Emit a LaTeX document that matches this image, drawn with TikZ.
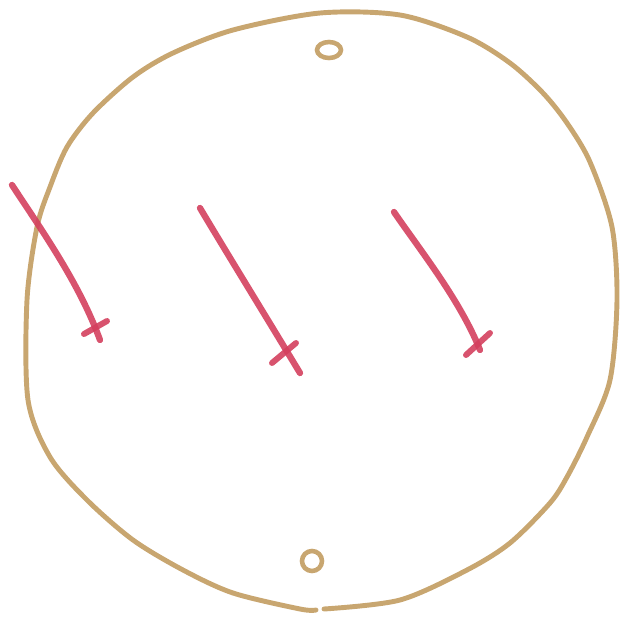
\documentclass[tikz,border=0pt]{standalone}
\usepackage{xcolor}
\usepackage{tikz}

\definecolor{pencilTan}{HTML}{C8A670}
\definecolor{pencilRed}{HTML}{D4405E}

\begin{document}
\begin{tikzpicture}[
    x=0.02cm, y=-0.02cm,
    rim/.style={draw=pencilTan, line width=2.8pt, line cap=round, line join=round},
    hole/.style={draw=pencilTan, line width=2.6pt},
    stroke/.style={draw=pencilRed, line width=3.6pt, line cap=round, opacity=0.9},
    tick/.style={draw=pencilRed, line width=3.4pt, line cap=round, opacity=0.9}
]
\useasboundingbox (0,0) rectangle (626,620);

% outer rim
\draw[rim] plot[smooth] coordinates {
    (324,609) (400,600) (467,570) (510,543) (550,503) (567,477)
    (587,437) (610,380) (617,300) (612,227) (590,162) (567,123)
    (543,93) (510,63) (467,37) (400,15) (320,13) (233,30)
    (173,53) (133,77) (93,113) (67,147) (50,187) (37,227)
    (27,300) (28,400) (50,457) (87,500) (133,540) (183,570)
    (233,593) (300,609) (316,610)};

% top and bottom holes
\draw[hole] (329,50) ellipse [x radius=12, y radius=8];
\draw[hole] (312,561) ellipse [x radius=10, y radius=10];

% marks
\draw[stroke] (12,185) .. controls (45,235) and (80,285) .. (100,340);
\draw[tick] (84,334) -- (107,321);

\draw[stroke] (200,208) .. controls (225,250) and (265,315) .. (300,373);
\draw[tick] (272,363) -- (296,343);

\draw[stroke] (394,212) .. controls (420,250) and (460,300) .. (480,350);
\draw[tick] (466,355) -- (490,333);
\end{tikzpicture}
\end{document}
